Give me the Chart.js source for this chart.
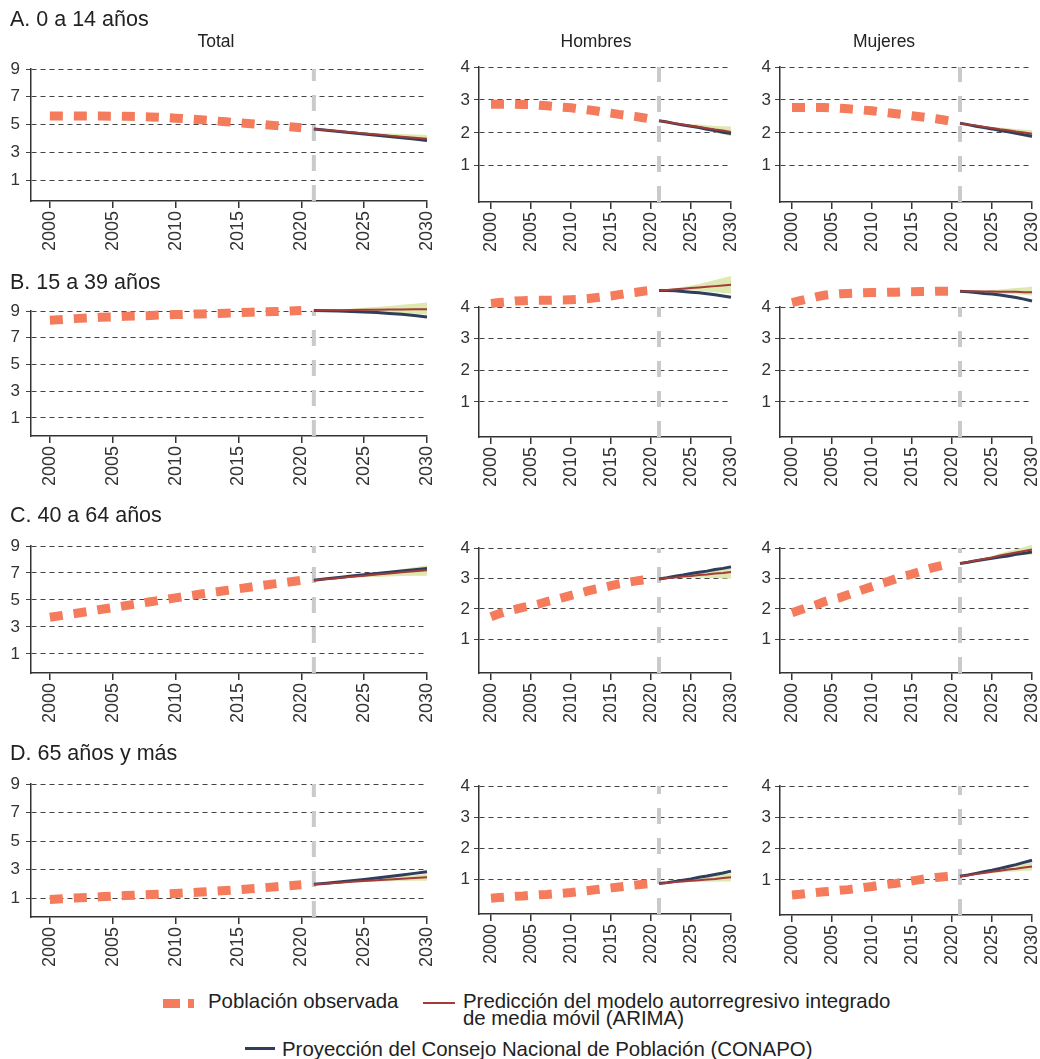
<!DOCTYPE html>
<html lang="es">
<head>
<meta charset="utf-8">
<title>Población por grupo de edad</title>
<script src="https://cdn.jsdelivr.net/npm/chart.js@4.4.1/dist/chart.umd.min.js"></script>
<style>
  html, body { margin: 0; padding: 0; background: #fff; }
  body { width: 1040px; height: 1059px; position: relative; overflow: hidden;
         font-family: 'Liberation Sans', Arial, Helvetica, sans-serif; color: #222; }
  canvas { position: absolute; }
  .t { position: absolute; white-space: nowrap; line-height: 1; z-index: 2; }
  .row { font-size: 21.5px; left: 10px; }
  .col { font-size: 17.5px; transform: translateX(-50%); }
  .lg { font-size: 20.4px; }
  .mk { position: absolute; z-index: 2; }
</style>
</head>
<body>

<div class="t row" style="top:8.5px">A. 0 a 14 años</div>
<div class="t row" style="top:272px">B. 15 a 39 años</div>
<div class="t row" style="top:505px">C. 40 a 64 años</div>
<div class="t row" style="top:742.5px">D. 65 años y más</div>

<div class="t col" style="top:33px;left:216px">Total</div>
<div class="t col" style="top:33px;left:596px">Hombres</div>
<div class="t col" style="top:33px;left:884px">Mujeres</div>

<!-- legend -->
<div class="mk" style="left:163px;top:999px;width:17px;height:9px;background:#f47c5c"></div>
<div class="mk" style="left:188px;top:999px;width:6px;height:9px;background:#f47c5c"></div>
<div class="t lg" style="left:208px;top:990.7px">Población observada</div>
<div class="mk" style="left:423px;top:1002px;width:32px;height:2px;background:#a33b37"></div>
<div class="t lg" style="left:463px;top:990.7px">Predicción del modelo autorregresivo integrado</div>
<div class="t lg" style="left:463px;top:1007.7px">de media móvil (ARIMA)</div>
<div class="mk" style="left:245px;top:1047px;width:30px;height:3px;background:#2e3e5c"></div>
<div class="t lg" style="left:282px;top:1038.7px">Proyección del Consejo Nacional de Población (CONAPO)</div>

<script>
// ---- years and tick values ----
const obsYears = [2000,2001,2002,2003,2004,2005,2006,2007,2008,2009,2010,
                  2011,2012,2013,2014,2015,2016,2017,2018,2019,2020];
const fcYears  = [2021,2022,2023,2024,2025,2026,2027,2028,2029,2030];
const yearTicks  = [2000,2005,2010,2015,2020,2025,2030];
const totalTicks = [1,3,5,7,9];
const sexTicks   = [1,2,3,4];
const cutYear = 2021;

// ---- A. 0 a 14 años ----
const obs_A_T    = [5.62,5.62,5.61,5.61,5.61,5.60,5.59,5.57,5.55,5.51,5.46,5.40,5.34,5.27,5.20,5.13,5.06,4.99,4.92,4.84,4.76];
const conapo_A_T = [4.68,4.59,4.50,4.41,4.32,4.23,4.14,4.05,3.95,3.85];
const arima_A_T  = [4.68,4.60,4.52,4.44,4.36,4.28,4.20,4.12,4.04,3.97];
const hi_A_T     = [4.68,4.61,4.55,4.49,4.44,4.39,4.35,4.31,4.28,4.25];
const lo_A_T     = [4.68,4.59,4.50,4.40,4.30,4.20,4.09,3.98,3.87,3.77];

const obs_A_H    = [2.87,2.87,2.87,2.87,2.86,2.86,2.84,2.82,2.80,2.78,2.76,2.73,2.70,2.67,2.63,2.60,2.56,2.53,2.50,2.46,2.42];
const conapo_A_H = [2.37,2.33,2.28,2.24,2.20,2.16,2.11,2.07,2.02,1.98];
const arima_A_H  = [2.37,2.33,2.29,2.25,2.21,2.18,2.14,2.10,2.07,2.03];
const hi_A_H     = [2.37,2.34,2.31,2.28,2.26,2.25,2.23,2.21,2.20,2.19];
const lo_A_H     = [2.37,2.32,2.28,2.23,2.17,2.13,2.07,2.01,1.96,1.90];

const obs_A_M    = [2.77,2.77,2.77,2.77,2.77,2.76,2.75,2.73,2.71,2.69,2.67,2.64,2.61,2.58,2.55,2.52,2.49,2.46,2.43,2.39,2.35];
const conapo_A_M = [2.29,2.25,2.20,2.16,2.12,2.07,2.03,1.99,1.94,1.90];
const arima_A_M  = [2.29,2.25,2.22,2.18,2.15,2.11,2.08,2.04,2.01,1.97];
const hi_A_M     = [2.29,2.25,2.23,2.20,2.18,2.16,2.14,2.12,2.10,2.08];
const lo_A_M     = [2.29,2.24,2.21,2.15,2.11,2.05,2.00,1.94,1.89,1.83];

// ---- B. 15 a 39 años ----
const obs_B_T    = [8.31,8.36,8.43,8.48,8.53,8.56,8.61,8.64,8.66,8.71,8.73,8.76,8.78,8.81,8.84,8.87,8.91,8.94,8.96,9.00,9.04];
const conapo_B_T = [9.04,9.02,9.00,8.97,8.93,8.88,8.82,8.75,8.66,8.55];
const arima_B_T  = [9.04,9.05,9.06,9.08,9.09,9.10,9.11,9.12,9.13,9.14];
const hi_B_T     = [9.04,9.07,9.11,9.17,9.24,9.30,9.37,9.46,9.54,9.63];
const lo_B_T     = [9.04,9.03,9.02,9.00,8.97,8.94,8.89,8.84,8.79,8.74];

const obs_B_H    = [4.11,4.14,4.16,4.19,4.20,4.21,4.21,4.21,4.22,4.22,4.23,4.24,4.26,4.29,4.32,4.35,4.39,4.43,4.46,4.50,4.52];
const conapo_B_H = [4.52,4.52,4.51,4.49,4.47,4.45,4.42,4.39,4.35,4.31];
const arima_B_H  = [4.52,4.54,4.56,4.58,4.60,4.62,4.64,4.66,4.68,4.70];
const hi_B_H     = [4.52,4.55,4.59,4.63,4.68,4.73,4.79,4.85,4.92,4.98];
const lo_B_H     = [4.52,4.53,4.53,4.53,4.52,4.51,4.49,4.47,4.44,4.42];

const obs_B_M    = [4.14,4.20,4.26,4.32,4.37,4.40,4.42,4.43,4.44,4.45,4.46,4.46,4.47,4.47,4.48,4.48,4.49,4.49,4.50,4.50,4.50];
const conapo_B_M = [4.50,4.48,4.46,4.43,4.41,4.38,4.34,4.30,4.25,4.19];
const arima_B_M  = [4.50,4.50,4.50,4.49,4.49,4.48,4.48,4.48,4.47,4.47];
const hi_B_M     = [4.50,4.51,4.52,4.52,4.54,4.55,4.58,4.60,4.62,4.65];
const lo_B_M     = [4.50,4.50,4.49,4.47,4.46,4.43,4.42,4.40,4.38,4.36];

// ---- C. 40 a 64 años ----
const obs_C_T    = [3.72,3.86,4.00,4.14,4.29,4.43,4.58,4.72,4.87,5.01,5.16,5.30,5.44,5.57,5.70,5.83,5.96,6.09,6.21,6.33,6.45];
const conapo_C_T = [6.47,6.57,6.67,6.77,6.87,6.96,7.05,7.14,7.24,7.33];
const arima_C_T  = [6.47,6.55,6.63,6.72,6.80,6.88,6.96,7.05,7.13,7.21];
const hi_C_T     = [6.47,6.56,6.67,6.79,6.91,7.03,7.15,7.30,7.43,7.57];
const lo_C_T     = [6.47,6.53,6.59,6.64,6.68,6.71,6.74,6.77,6.79,6.80];

const obs_C_H    = [1.74,1.84,1.92,1.98,2.05,2.10,2.16,2.24,2.30,2.37,2.44,2.51,2.58,2.65,2.70,2.76,2.82,2.87,2.91,2.95,2.98];
const conapo_C_H = [2.98,3.02,3.07,3.11,3.16,3.20,3.24,3.29,3.33,3.38];
const arima_C_H  = [2.98,3.01,3.03,3.06,3.08,3.11,3.13,3.16,3.18,3.21];
const hi_C_H     = [2.98,3.02,3.05,3.10,3.15,3.20,3.25,3.31,3.36,3.43];
const lo_C_H     = [2.98,3.00,3.01,3.02,3.02,3.02,3.02,3.01,3.00,3.00];

const obs_C_M    = [1.87,1.96,2.05,2.13,2.23,2.31,2.37,2.46,2.55,2.64,2.73,2.82,2.90,2.99,3.08,3.14,3.22,3.31,3.38,3.44,3.48];
const conapo_C_M = [3.49,3.53,3.58,3.62,3.66,3.70,3.74,3.79,3.83,3.87];
const arima_C_M  = [3.49,3.54,3.59,3.64,3.69,3.75,3.80,3.85,3.90,3.95];
const hi_C_M     = [3.49,3.55,3.61,3.67,3.74,3.82,3.89,3.96,4.03,4.11];
const lo_C_M     = [3.49,3.53,3.57,3.61,3.64,3.68,3.71,3.74,3.77,3.79];

// ---- D. 65 años y más ----
const obs_D_T    = [0.90,0.95,1.00,1.04,1.09,1.13,1.17,1.21,1.24,1.28,1.32,1.37,1.42,1.47,1.53,1.59,1.65,1.72,1.79,1.86,1.93];
const conapo_D_T = [1.96,2.04,2.12,2.21,2.31,2.41,2.51,2.62,2.73,2.85];
const arima_D_T  = [1.96,2.02,2.08,2.14,2.20,2.25,2.30,2.35,2.40,2.45];
const hi_D_T     = [1.96,2.03,2.10,2.19,2.27,2.35,2.43,2.52,2.60,2.69];
const lo_D_T     = [1.96,2.01,2.06,2.10,2.13,2.16,2.18,2.19,2.21,2.22];

const obs_D_H    = [0.39,0.41,0.43,0.45,0.46,0.48,0.50,0.51,0.53,0.55,0.57,0.60,0.63,0.66,0.69,0.72,0.75,0.78,0.81,0.84,0.86];
const conapo_D_H = [0.86,0.89,0.93,0.97,1.01,1.06,1.10,1.15,1.20,1.26];
const arima_D_H  = [0.86,0.88,0.91,0.93,0.95,0.97,0.99,1.01,1.04,1.06];
const hi_D_H     = [0.86,0.89,0.92,0.95,0.99,1.02,1.06,1.10,1.15,1.19];
const lo_D_H     = [0.86,0.87,0.90,0.91,0.91,0.92,0.92,0.92,0.93,0.93];

const obs_D_M    = [0.52,0.54,0.57,0.60,0.62,0.64,0.67,0.69,0.72,0.76,0.79,0.83,0.86,0.89,0.93,0.97,1.01,1.05,1.08,1.10,1.12];
const conapo_D_M = [1.12,1.16,1.21,1.26,1.31,1.37,1.43,1.49,1.56,1.63];
const arima_D_M  = [1.12,1.15,1.19,1.22,1.26,1.29,1.33,1.36,1.40,1.43];
const hi_D_M     = [1.12,1.16,1.20,1.25,1.30,1.35,1.41,1.46,1.52,1.57];
const lo_D_M     = [1.12,1.14,1.18,1.20,1.22,1.24,1.26,1.27,1.29,1.30];

// ---- colours ----
const SALMON = '#f47c5c';
const RED    = '#a33b37';
const NAVY   = '#2e3e5c';
const BAND   = '#dde9b0';
const GREY   = '#cacaca';
const INK    = '#333333';

Chart.defaults.font.family = "'Liberation Sans', Arial, Helvetica, sans-serif";
Chart.defaults.color = INK;

// panel frame: canvas box and plot area (page pixels), y range
const PAD_TOP = 40;
const X_AXIS_H = 58;
const columns = {
  T: { canvasLeft: 0,   canvasWidth: 440, left: 31,  right: 427, ticks: totalTicks, tickPad: 6 },
  H: { canvasLeft: 440, canvasWidth: 300, left: 479, right: 731, ticks: sexTicks,   tickPad: 4 },
  M: { canvasLeft: 740, canvasWidth: 300, left: 780, right: 1032, ticks: sexTicks,  tickPad: 4 }
};
const panels = [
  { col: 'T', top: 69,  bottom: 201, ymin: -0.51, ymax: 9, obs: obs_A_T, conapo: conapo_A_T, arima: arima_A_T, hi: hi_A_T, lo: lo_A_T },
  { col: 'H', top: 67,  bottom: 202, ymin: -0.10, ymax: 4, obs: obs_A_H, conapo: conapo_A_H, arima: arima_A_H, hi: hi_A_H, lo: lo_A_H },
  { col: 'M', top: 67,  bottom: 202, ymin: -0.10, ymax: 4, obs: obs_A_M, conapo: conapo_A_M, arima: arima_A_M, hi: hi_A_M, lo: lo_A_M },
  { col: 'T', top: 311, bottom: 436, ymin: -0.35, ymax: 9, obs: obs_B_T, conapo: conapo_B_T, arima: arima_B_T, hi: hi_B_T, lo: lo_B_T },
  { col: 'H', top: 307, bottom: 437, ymin: -0.11, ymax: 4, obs: obs_B_H, conapo: conapo_B_H, arima: arima_B_H, hi: hi_B_H, lo: lo_B_H },
  { col: 'M', top: 307, bottom: 437, ymin: -0.11, ymax: 4, obs: obs_B_M, conapo: conapo_B_M, arima: arima_B_M, hi: hi_B_M, lo: lo_B_M },
  { col: 'T', top: 546, bottom: 673, ymin: -0.41, ymax: 9, obs: obs_C_T, conapo: conapo_C_T, arima: arima_C_T, hi: hi_C_T, lo: lo_C_T },
  { col: 'H', top: 548, bottom: 673, ymin: -0.11, ymax: 4, obs: obs_C_H, conapo: conapo_C_H, arima: arima_C_H, hi: hi_C_H, lo: lo_C_H },
  { col: 'M', top: 548, bottom: 673, ymin: -0.11, ymax: 4, obs: obs_C_M, conapo: conapo_C_M, arima: arima_C_M, hi: hi_C_M, lo: lo_C_M },
  { col: 'T', top: 784, bottom: 917, ymin: -0.33, ymax: 9, obs: obs_D_T, conapo: conapo_D_T, arima: arima_D_T, hi: hi_D_T, lo: lo_D_T },
  { col: 'H', top: 786, bottom: 914, ymin: -0.12, ymax: 4, obs: obs_D_H, conapo: conapo_D_H, arima: arima_D_H, hi: hi_D_H, lo: lo_D_H },
  { col: 'M', top: 786, bottom: 915, ymin: -0.12, ymax: 4, obs: obs_D_M, conapo: conapo_D_M, arima: arima_D_M, hi: hi_D_M, lo: lo_D_M }
];

const toPoints = (xs, ys) => xs.map((x, i) => ({ x: x, y: ys[i] }));

// Series may rise above the top tick; let lines and the interval fill
// spill into the padding above the plot area instead of being clipped.
const openTop = {
  id: 'openTop',
  beforeDatasetsDraw(chart) {
    const a = chart.chartArea;
    chart.$plotEdges = { top: a.top, bottom: a.bottom };
    a.top = 0;
    a.bottom = chart.height;
  },
  afterDatasetsDraw(chart) {
    const a = chart.chartArea, e = chart.$plotEdges;
    a.top = e.top;
    a.bottom = e.bottom;
  }
};

function drawPanel(p) {
  const c = columns[p.col];
  const canvas = document.createElement('canvas');
  const w = c.canvasWidth;
  const h = PAD_TOP + (p.bottom - p.top) + X_AXIS_H;
  canvas.width = w; canvas.height = h;
  canvas.style.width = w + 'px'; canvas.style.height = h + 'px';
  canvas.style.left = c.canvasLeft + 'px';
  canvas.style.top = (p.top - PAD_TOP) + 'px';
  document.body.appendChild(canvas);

  const yAxisW = c.left - c.canvasLeft;
  const padRight = c.canvasWidth - (c.right - c.canvasLeft);
  const line = { pointRadius: 0, pointHoverRadius: 0, tension: 0, clip: false, fill: false };

  new Chart(canvas, {
    type: 'line',
    data: {
      datasets: [
        Object.assign({}, line, { label: 'Población observada', data: toPoints(obsYears, p.obs),
          borderColor: SALMON, borderWidth: 9, borderDash: [13, 11], borderCapStyle: 'butt', order: 0 }),
        Object.assign({}, line, { label: 'ARIMA', data: toPoints(fcYears, p.arima),
          borderColor: RED, borderWidth: 2, order: 1 }),
        Object.assign({}, line, { label: 'CONAPO', data: toPoints(fcYears, p.conapo),
          borderColor: NAVY, borderWidth: 3, order: 2 }),
        Object.assign({}, line, { label: 'Intervalo superior', data: toPoints(fcYears, p.hi),
          borderColor: 'rgba(0,0,0,0)', borderWidth: 0, backgroundColor: BAND, fill: '+1', order: 3 }),
        Object.assign({}, line, { label: 'Intervalo inferior', data: toPoints(fcYears, p.lo),
          borderColor: 'rgba(0,0,0,0)', borderWidth: 0, order: 4 }),
        Object.assign({}, line, { label: 'Corte', data: [{ x: cutYear, y: p.ymin }, { x: cutYear, y: p.ymax }],
          borderColor: GREY, borderWidth: 4, borderDash: [16, 14], borderCapStyle: 'butt', order: 5 })
      ]
    },
    options: {
      responsive: false,
      animation: false,
      events: [],
      layout: { padding: { top: PAD_TOP, right: padRight, left: 0, bottom: 0 } },
      plugins: { legend: { display: false }, tooltip: { enabled: false } },
      scales: {
        x: {
          type: 'linear', min: 1998.5, max: 2030,
          afterBuildTicks: s => { s.ticks = yearTicks.map(v => ({ value: v })); },
          afterFit: s => { s.height = X_AXIS_H; s.paddingLeft = 0; s.paddingRight = 0; },
          ticks: { autoSkip: false, minRotation: 90, maxRotation: 90, padding: 3,
                   color: INK, font: { size: 18 }, callback: v => String(v) },
          grid: { drawOnChartArea: false, drawTicks: true, tickLength: 7, color: INK, lineWidth: 1.5 },
          border: { display: true, color: INK, width: 1.5 }
        },
        y: {
          type: 'linear', min: p.ymin, max: p.ymax,
          afterBuildTicks: s => { s.ticks = c.ticks.map(v => ({ value: v })); },
          afterFit: s => { s.width = yAxisW; s.paddingTop = 0; s.paddingBottom = 0; },
          ticks: { padding: c.tickPad, color: INK, font: { size: 17 }, callback: v => String(v) },
          grid: { color: '#444', lineWidth: 1, tickLength: 5 },
          border: { display: true, color: INK, width: 1.5, dash: [5, 4] }
        }
      }
    },
    plugins: [openTop]
  });
}

panels.forEach(drawPanel);
</script>
</body>
</html>
